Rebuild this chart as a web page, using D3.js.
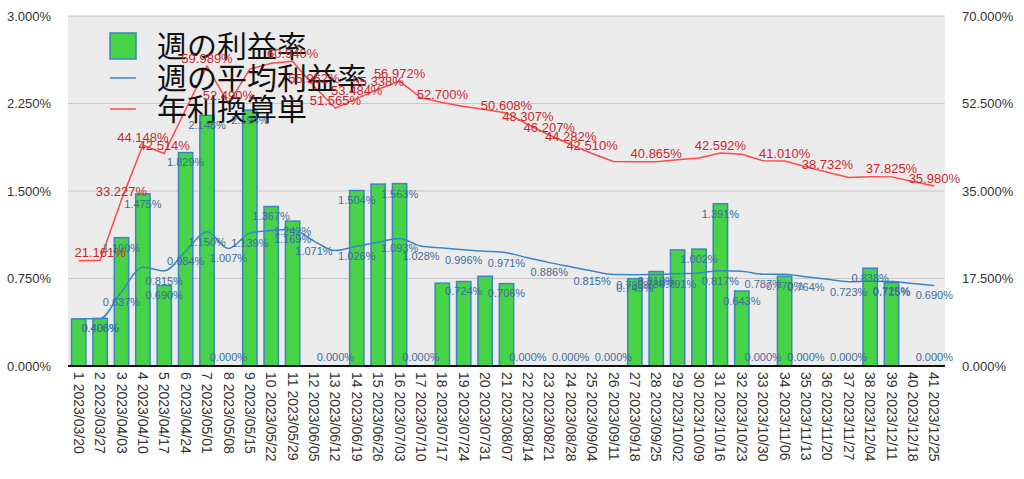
<!DOCTYPE html>
<html>
<head>
<meta charset="utf-8">
<script src="https://cdn.jsdelivr.net/npm/d3@7"></script>
<style>
  body { margin: 0; background: #fff; }
  svg { display: block; font-family: "Liberation Sans", Arial, sans-serif; }
</style>
</head>
<body>
<svg id="chart" width="1024" height="479"></svg>
<script>
// week start dates (x tick labels)
const dates = [
  "2023/03/20","2023/03/27","2023/04/03","2023/04/10","2023/04/17","2023/04/24","2023/05/01",
  "2023/05/08","2023/05/15","2023/05/22","2023/05/29","2023/06/05","2023/06/12","2023/06/19",
  "2023/06/26","2023/07/03","2023/07/10","2023/07/17","2023/07/24","2023/07/31","2023/08/07",
  "2023/08/14","2023/08/21","2023/08/28","2023/09/04","2023/09/11","2023/09/18","2023/09/25",
  "2023/10/02","2023/10/09","2023/10/16","2023/10/23","2023/10/30","2023/11/06","2023/11/13",
  "2023/11/20","2023/11/27","2023/12/04","2023/12/11","2023/12/18","2023/12/25"
];

// 週の利益率 (%)
const weekly = [0.404, 0.408, 1.100, 1.475, 0.690, 1.829, 2.148, 0.000, 2.194, 1.367,
  1.242, 0.000, 0.000, 1.504, 1.559, 1.563, 0.000, 0.710, 0.724, 0.769,
  0.706, 0.000, 0.000, 0.000, 0.000, 0.000, 0.749, 0.810, 0.995, 1.002,
  1.391, 0.643, 0.000, 0.770, 0.000, 0.000, 0.000, 0.838, 0.715, 0.000, 0.000];

// 週の平均利益率 (%)
const average = [0.404, 0.406, 0.637, 0.847, 0.815, 0.984, 1.150, 1.007, 1.139, 1.161,
  1.169, 1.071, 0.989, 1.026, 1.061, 1.093, 1.028, 1.011, 0.996, 0.984,
  0.971, 0.927, 0.886, 0.850, 0.815, 0.784, 0.783, 0.784, 0.791, 0.798,
  0.817, 0.812, 0.787, 0.786, 0.764, 0.743, 0.723, 0.726, 0.725, 0.707, 0.690];

// 年利換算単 (%)
const annual = [21.07, 21.161, 33.227, 44.148, 42.514, 51.30, 59.989, 52.490, 59.37, 60.56,
  60.940, 55.962, 51.565, 53.484, 55.338, 56.972, 53.62, 52.700, 51.91, 51.32,
  50.608, 48.307, 46.207, 44.282, 42.510, 40.89, 40.83, 40.865, 41.26, 41.62,
  42.592, 42.33, 41.05, 41.010, 39.85, 38.732, 37.70, 37.86, 37.825, 36.89, 35.980];

// weeks whose value labels are shown in the chart
const weeklyLabelWeeks = [2,3,4,5,6,7,8,9,10,11,13,14,16,17,19,21,22,24,26,27,28,30,31,32,33,34,35,37,38,39,41];
const averageLabelWeeks = [2,3,5,6,7,8,9,11,12,14,16,17,19,21,23,25,27,28,29,31,33,35,37,39,41];
const annualLabelWeeks = [2,3,4,5,7,8,11,12,13,14,15,16,18,21,22,23,24,25,28,31,34,36,39,41];

const leftTicks = [0, 0.75, 1.5, 2.25, 3];
const rightTicks = [0, 17.5, 35, 52.5, 70];
const legendNames = ["週の利益率", "週の平均利益率", "年利換算単"];

const plot = {left: 68, right: 945, top: 16, bottom: 366};
const green = "#46d446", barStroke = "#3c84c4", blue = "#3a86c8", red = "#ff4a4a";
const blueText = "#3b6e9e", redText = "#c8282d";

const svg = d3.select("#chart");
const idx = d3.range(dates.length);

const x = d3.scaleBand().domain(idx)
  .range([plot.left, plot.right])
  .paddingInner(0.33).paddingOuter(0.165);
const yL = d3.scaleLinear().domain([0, 3]).range([plot.bottom, plot.top]);
const yR = d3.scaleLinear().domain([0, 70]).range([plot.bottom, plot.top]);
const cx = i => x(i) + x.bandwidth() / 2;
const pct = d => d.toFixed(3) + "%";

// plot background
svg.append("rect")
  .attr("x", plot.left).attr("y", plot.top)
  .attr("width", plot.right - plot.left).attr("height", plot.bottom - plot.top)
  .attr("fill", "#ebebeb");

// gridlines
svg.append("g").selectAll("line")
  .data(leftTicks.slice(1))
  .enter().append("line")
  .attr("x1", plot.left).attr("x2", plot.right)
  .attr("y1", d => yL(d)).attr("y2", d => yL(d))
  .attr("stroke", "#c8c8c8").attr("stroke-width", 1.2);

// left axis
const leftAxis = svg.append("g")
  .attr("transform", "translate(" + plot.left + ",0)")
  .call(d3.axisLeft(yL).tickValues(leftTicks).tickFormat(pct).tickSize(0).tickPadding(17));
// right axis
const rightAxis = svg.append("g")
  .attr("transform", "translate(" + plot.right + ",0)")
  .call(d3.axisRight(yR).tickValues(rightTicks).tickFormat(pct).tickSize(0).tickPadding(17));
[leftAxis, rightAxis].forEach(a => {
  a.select(".domain").remove();
  a.selectAll("text").attr("font-size", 13).attr("fill", "#333")
    .attr("font-family", "'Liberation Sans', Arial, sans-serif");
});

// bars
svg.append("g").selectAll("rect")
  .data(idx.filter(i => weekly[i] > 0))
  .enter().append("rect")
  .attr("x", i => x(i))
  .attr("y", i => yL(weekly[i]))
  .attr("width", x.bandwidth())
  .attr("height", i => yL(0) - yL(weekly[i]))
  .attr("fill", green)
  .attr("stroke", barStroke)
  .attr("stroke-width", 1.5);

// x axis
const xAxis = svg.append("g")
  .attr("transform", "translate(0," + plot.bottom + ")")
  .call(d3.axisBottom(x).tickSize(0).tickFormat(i => (i + 1) + " " + dates[i]));
xAxis.select(".domain").remove();
xAxis.selectAll("text")
  .attr("transform", "rotate(90)")
  .attr("x", 6).attr("y", 0).attr("dy", "0.35em")
  .attr("text-anchor", "start")
  .attr("font-size", 14).attr("fill", "#333")
  .attr("font-family", "'Liberation Sans', Arial, sans-serif");

svg.append("line")
  .attr("x1", plot.left).attr("x2", plot.right)
  .attr("y1", plot.bottom).attr("y2", plot.bottom)
  .attr("stroke", "#111").attr("stroke-width", 2);

// lines
svg.append("path")
  .datum(idx)
  .attr("fill", "none").attr("stroke", blue).attr("stroke-width", 1.5)
  .attr("d", d3.line().x(cx).y(i => yL(average[i])).curve(d3.curveMonotoneX));

svg.append("path")
  .datum(idx)
  .attr("fill", "none").attr("stroke", red).attr("stroke-width", 1.5)
  .attr("d", d3.line().x(cx).y(i => yR(annual[i])));

// legend
const legend = svg.append("g");
const rowY = [46, 78, 109];
legend.append("rect")
  .attr("x", 110).attr("y", rowY[0] - 13).attr("width", 26).attr("height", 26)
  .attr("fill", green).attr("stroke", barStroke).attr("stroke-width", 1.5);
legend.append("line")
  .attr("x1", 110).attr("x2", 136).attr("y1", rowY[1]).attr("y2", rowY[1])
  .attr("stroke", blue).attr("stroke-width", 1.5);
legend.append("line")
  .attr("x1", 110).attr("x2", 136).attr("y1", rowY[2]).attr("y2", rowY[2])
  .attr("stroke", red).attr("stroke-width", 1.5);
legend.selectAll("text")
  .data(legendNames)
  .enter().append("text")
  .attr("x", 157)
  .attr("y", (d, i) => rowY[i])
  .attr("dy", "0.36em")
  .attr("font-family", "'Noto Sans CJK JP', sans-serif")
  .attr("font-size", 30)
  .attr("fill", "#111")
  .text(d => d);

// value labels
svg.append("g").selectAll("text")
  .data(weeklyLabelWeeks.map(w => w - 1))
  .enter().append("text")
  .attr("x", cx)
  .attr("y", i => Math.min(yL(weekly[i]) + 10, plot.bottom - 9))
  .attr("dy", "0.35em")
  .attr("text-anchor", "middle")
  .attr("font-size", 11).attr("fill", blueText)
  .text(i => pct(weekly[i]));

svg.append("g").selectAll("text")
  .data(averageLabelWeeks.map(w => w - 1))
  .enter().append("text")
  .attr("x", cx)
  .attr("y", i => yL(average[i]) + 10)
  .attr("dy", "0.35em")
  .attr("text-anchor", "middle")
  .attr("font-size", 11).attr("fill", blueText)
  .text(i => pct(average[i]));

svg.append("g").selectAll("text")
  .data(annualLabelWeeks.map(w => w - 1))
  .enter().append("text")
  .attr("x", cx)
  .attr("y", i => yR(annual[i]) - 8)
  .attr("dy", "0.35em")
  .attr("text-anchor", "middle")
  .attr("font-size", 13).attr("fill", redText)
  .text(i => pct(annual[i]));
</script>
</body>
</html>
